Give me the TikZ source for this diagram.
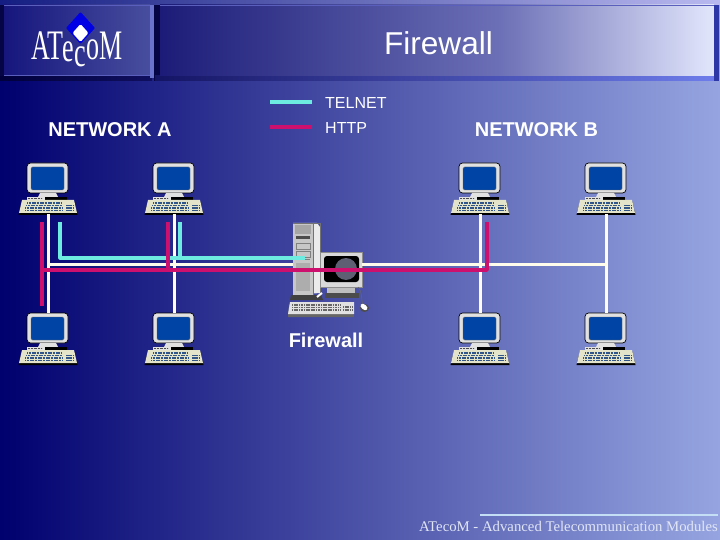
\documentclass[tikz,border=0pt]{standalone}
\usepackage{fontspec}
\setmainfont{Liberation Sans}
\newfontfamily\serifA{Liberation Serif}
\definecolor{bgL}{RGB}{0,0,110}
\definecolor{bgR}{RGB}{150,165,225}
\definecolor{teal}{RGB}{110,235,225}
\definecolor{mag}{RGB}{205,15,110}
\definecolor{wire}{RGB}{255,252,235}
\definecolor{scr}{RGB}{0,68,165}
\definecolor{bodyc}{RGB}{225,225,225}
\definecolor{keyc}{RGB}{50,85,135}
\definecolor{stripL}{RGB}{20,30,130}
\definecolor{stripR}{RGB}{185,185,240}
\definecolor{shadL}{RGB}{0,0,60}
\definecolor{shadR}{RGB}{15,15,95}
\definecolor{logoL}{RGB}{22,22,125}
\definecolor{logoR}{RGB}{72,78,158}
\definecolor{bevel}{RGB}{105,115,205}
\definecolor{edgeD}{RGB}{5,5,70}
\definecolor{bandL}{RGB}{20,20,100}
\definecolor{bandR}{RGB}{110,125,235}
\definecolor{headL}{RGB}{28,28,120}
\definecolor{headM}{RGB}{108,112,182}
\definecolor{headR}{RGB}{226,230,252}
\definecolor{hline}{RGB}{90,95,190}
\definecolor{edgeR}{RGB}{45,55,165}
\definecolor{footl}{RGB}{195,222,245}
\definecolor{foott}{RGB}{225,230,245}
\definecolor{crt}{RGB}{95,95,115}
\tikzset{
  wirew/.style={draw=wire,line width=3pt},
  wiret/.style={draw=teal,line width=3.2pt,line join=round},
  wirem/.style={draw=mag,line width=3.6pt,line join=round},
  lab/.style={text=white,font=\fontsize{20}{20}\selectfont\bfseries,inner sep=0pt},
  leg/.style={text=white,font=\fontsize{16}{16}\selectfont,inner sep=0pt,anchor=west},
  pc/.pic={
    % monitor
    \filldraw[fill=bodyc,draw=black,line width=.7pt,rounded corners=3.5pt] (-21,0) rectangle (20,30);
    \fill[scr,draw=black!60,line width=.4pt,rounded corners=1.5pt] (-17,4) rectangle (16,27);
    % stand
    \fill[bodyc] (-8,30) -- (8,30) -- (10,34) -- (-10,34) -- cycle;
    \fill[black] (-3,34) rectangle (19,37);
    \fill[bodyc] (-21,34) rectangle (-3,37);
    \draw[black!70,line width=1pt,dash pattern=on .8pt off .6pt] (-20,35.5) -- (-6,35.5);
    % keyboard
    \fill[black] (-26,38) -- (26,38) -- (29.5,52) -- (-29.5,52) -- cycle;
    \fill[bodyc!90!yellow] (-26,37) -- (26,37) -- (29,50) -- (-29,50) -- cycle;
    \foreach \yy/\xa/\xb in {40/-21/13,42.5/-22/14,45/-23/14,47.5/-23/15}
      \draw[keyc,line width=1.2pt,dash pattern=on 1.1pt off .5pt] (\xa,\yy) -- (\xb,\yy);
    \foreach \yy in {42.5,45,47.5}
      \draw[keyc,line width=1.2pt,dash pattern=on 1.6pt off .6pt] (18,\yy) -- (26,\yy);
    \coordinate (-top) at (0,0);
    \coordinate (-bot) at (0,51);
  },
  fwall/.pic={
    % tower, origin at its top left corner (293,223)
    \fill[black!75] (-2,72) -- (28,72) -- (30,77) -- (-3,77) -- cycle;
    \fill[black!8] (0,0) -- (24,0) -- (27,4) -- (27,70) -- (0,72) -- cycle;
    \fill[black!22] (0,0) -- (20,0) -- (20,72) -- (0,72) -- cycle;
    \draw[black!55,line width=.5pt] (0,0) -- (27,0) -- (27,70) (20,0) -- (20,72);
    \fill[black!35] (2,2) rectangle (18,11);
    \fill[black!70] (3,13) rectangle (17,16);
    \draw[black!50,line width=.5pt] (3,20) rectangle (17,26) (3,28) rectangle (17,34) (3,36) -- (17,36);
    \fill[black!32] (3,40) rectangle (17,68);
    % monitor
    \filldraw[fill=black!15,draw=black!45,line width=.6pt] (27,29) rectangle (69,64);
    \fill[black,rounded corners=3pt] (31,33) rectangle (66,59);
    \begin{scope}
      \clip[rounded corners=3pt] (31,33) rectangle (66,59);
      \fill[crt] (53,46) ellipse (11 and 11);
    \end{scope}
    \fill[black!25] (34,65) rectangle (62,70);
    \fill[black!70] (32,70) rectangle (66,75);
    % connector between tower and keyboard
    \draw[white,line width=2pt] (29,70) -- (24,74);
    % keyboard
    \fill[black!60] (-4,81) -- (59,81) -- (61,94) -- (-5,94) -- cycle;
    \fill[bodyc] (-3,79) -- (61,79) -- (61,91) -- (-5,91) -- cycle;
    \foreach \yy in {82,84.5,87}
      \draw[black!60,line width=1.2pt,dash pattern=on 1.2pt off .5pt] (-1,\yy) -- (47,\yy);
    \draw[black!60,line width=1.2pt,dash pattern=on 1.2pt off .5pt] (50,84) -- (59,84) (50,87) -- (59,87);
    % mouse
    \draw[black!60,line width=.6pt] (65,64) .. controls (70,70) and (68,78) .. (70,82);
    \fill[black!70] (71.5,85) ellipse (4.5 and 4) ;
    \fill[white,rotate around={-40:(71,84)}] (71,84) ellipse (4 and 2.5);
    \coordinate (-w) at (0,41);
    \coordinate (-e) at (69,41);
  }
}
\begin{document}
\begin{tikzpicture}[x=1pt,y=-1pt]
  \useasboundingbox (0,0) rectangle (720,540);
  % background
  \shade[left color=bgL,right color=bgR] (0,0) rectangle (720,540);

  % header
  \shade[left color=stripL,right color=stripR] (0,0) rectangle (720,5);
  \shade[left color=shadL,right color=shadR] (0,76) rectangle (152,81);
  \fill[edgeD] (0,5) rectangle (4,76);
  \shade[left color=logoL,right color=logoR] (4,5) rectangle (150,76);
  \draw[hline,line width=.6pt] (4,5.5) -- (150,5.5) (4,75.5) -- (150,75.5);
  \fill[bevel] (150,5) rectangle (154,78);
  \fill[edgeD] (154,5) rectangle (160,81);
  \shade[left color=bandL,right color=bandR] (155,76) rectangle (718,81);
  \shade[left color=headL,right color=headM] (160,5) rectangle (500.5,76);
  \shade[left color=headM,right color=headR] (500,5) rectangle (714,76);
  \draw[hline,line width=.6pt] (160,5.5) -- (714,5.5);
  \fill[edgeR] (714,5) rectangle (719,81);

  % logo
  \fill[blue!90!black,rounded corners=1pt] (80.5,12) -- (95,28) -- (80.5,44) -- (66,28) -- cycle;
  \fill[white,rounded corners=1.5pt] (80.5,24) -- (88.5,33) -- (80.5,42) -- (72.5,33) -- cycle;
  \node[text=white,inner sep=0pt,anchor=base west,xscale=.62,transform shape] (logo) at (31,60)
    {\serifA\fontsize{42}{42}\selectfont AT\raisebox{-2pt}{e}\raisebox{-7pt}{c}oM};

  % title and labels
  \node[text=white,inner sep=0pt,font=\fontsize{31.6}{32}\selectfont] (title) at (438.5,43) {Firewall};
  \node[lab] (neta) at (110,129.5) {NETWORK A};
  \node[lab] (netb) at (536.5,129.5) {NETWORK B};
  \node[leg] (ltel) at (325,102.5) {TELNET};
  \node[leg] (lhttp) at (325,127.5) {HTTP};
  \coordinate (ta) at (270,102);
  \coordinate (tb) at (312,102);
  \coordinate (ma) at (270,127);
  \coordinate (mb) at (312,127);
  \draw[wiret] (ta) -- (tb);
  \draw[wirem] (ma) -- (mb);

  % computers
  \pic (a1) at (48,163) {pc};
  \pic (a2) at (48,313) {pc};
  \pic (b1) at (174,163) {pc};
  \pic (b2) at (174,313) {pc};
  \pic (c1) at (480,163) {pc};
  \pic (c2) at (480,313) {pc};
  \pic (d1) at (606,163) {pc};
  \pic (d2) at (606,313) {pc};
  \pic (fw) at (293,223) {fwall};
  \node[lab] (fwl) at (326,340) {Firewall};

  % white network
  \coordinate (ja) at (48,264);
  \coordinate (jd) at (606,264);
  \draw[wirew] (a1-bot) -- (a2-top);
  \draw[wirew] (b1-bot) -- (b2-top);
  \draw[wirew] (c1-bot) -- (c2-top);
  \draw[wirew] (d1-bot) -- (d2-top);
  \draw[wirew] (ja) -- (fw-w);
  \draw[wirew] (fw-e) -- (jd);

  % telnet
  \coordinate (t1) at (60,222);
  \coordinate (t2) at (60,258);
  \coordinate (t3) at (180,222);
  \coordinate (t4) at (180,258);
  \coordinate (t5) at (305,258);
  \draw[wiret] (t1) -- (t2) -- (t5);
  \draw[wiret] (t3) -- (t4);

  % http
  \coordinate (h1) at (42,222);
  \coordinate (h2) at (42,306);
  \coordinate (h3) at (42,270);
  \coordinate (h4) at (168,222);
  \coordinate (h5) at (168,270);
  \coordinate (h6) at (487,270);
  \coordinate (h7) at (487,222);
  \draw[wirem] (h1) -- (h2);
  \draw[wirem] (h4) -- (h5);
  \draw[wirem] (h3) -- (h6) -- (h7);

  % footer
  \draw[footl,line width=1.6pt] (480,515) -- (718,515);
  \node[text=foott,inner sep=0pt,anchor=base east] (foot) at (718,531)
    {\serifA\fontsize{14.75}{15}\selectfont ATecoM - Advanced Telecommunication Modules};
\end{tikzpicture}
\end{document}
